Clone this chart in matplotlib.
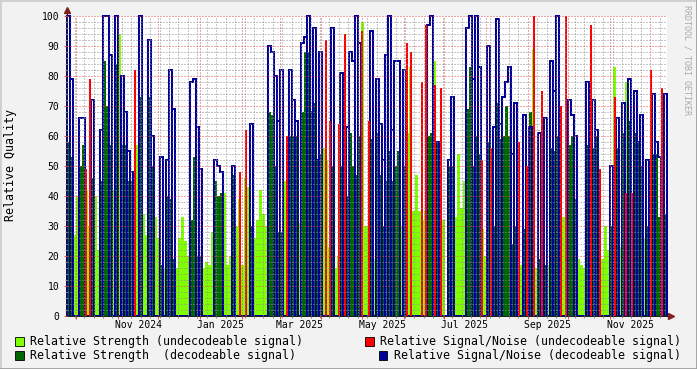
# Relative quality graph (rrdtool style)

import numpy as np
import matplotlib.pyplot as plt
import matplotlib.dates as mdates
from matplotlib.ticker import MultipleLocator
from matplotlib.patches import Rectangle
from matplotlib.lines import Line2D
from datetime import datetime

# Datos: un valor por intervalo de ~2.2 dias
decoded = [1, 1, 0, 0, 1, 1, 0, 0, 1, 0, 0, 1, 1, 1, 1, 0, 1, 0, 1, 1,
           1, 1, 0, 0, 1, 0, 0, 1, 1, 0, 0, 1, 0, 1, 1, 1, 0, 0, 0, 0,
           0, 1, 1, 1, 1, 0, 0, 0, 0, 1, 1, 1, 0, 0, 0, 1, 0, 0, 0, 0,
           0, 1, 0, 0, 0, 0, 0, 1, 1, 1, 1, 1, 0, 0, 1, 1, 1, 0, 1, 1,
           1, 1, 1, 1, 1, 0, 0, 0, 1, 0, 0, 1, 0, 1, 1, 1, 1, 1, 0, 0,
           0, 1, 0, 1, 1, 1, 1, 1, 1, 1, 1, 0, 1, 0, 0, 0, 0, 0, 0, 0,
           1, 1, 0, 1, 0, 0, 0, 1, 1, 0, 0, 0, 0, 1, 1, 1, 1, 1, 0, 0,
           1, 0, 1, 1, 1, 1, 1, 1, 1, 1, 0, 0, 1, 0, 1, 0, 0, 1, 0, 1,
           0, 1, 1, 1, 0, 0, 0, 1, 1, 1, 0, 0, 0, 1, 0, 1, 1, 0, 0, 0,
           0, 1, 0, 1, 0, 1, 0, 1, 0, 1, 1, 1, 0, 1, 0, 1, 1, 1, 0, 1]

strength = [58, 53, 27, 40, 50, 57, 42, 30, 46, 40, 22, 45, 85, 70, 57, 42, 84, 94, 57, 57,
            45, 45, 45, 57, 73, 34, 27, 73, 50, 33, 26, 17, 16, 40, 39, 19, 16, 26, 33, 25,
            20, 32, 53, 20, 20, 16, 18, 17, 28, 45, 40, 41, 41, 17, 20, 47, 30, 39, 17, 46,
            43, 30, 26, 32, 42, 34, 30, 68, 67, 50, 28, 28, 45, 28, 60, 60, 60, 31, 68, 88,
            88, 68, 71, 52, 54, 56, 52, 23, 50, 16, 20, 50, 40, 40, 61, 50, 47, 60, 98, 30,
            30, 59, 19, 61, 47, 30, 45, 55, 45, 50, 55, 30, 50, 61, 83, 35, 47, 35, 32, 35,
            60, 61, 85, 58, 52, 32, 0, 50, 50, 33, 54, 36, 45, 69, 83, 50, 60, 54, 29, 20,
            58, 19, 30, 71, 59, 60, 70, 60, 24, 30, 41, 17, 29, 25, 68, 89, 16, 19, 42, 17,
            17, 56, 55, 60, 22, 33, 33, 57, 60, 39, 19, 17, 16, 57, 46, 56, 60, 34, 19, 30,
            22, 30, 83, 56, 23, 61, 78, 65, 41, 61, 58, 50, 26, 30, 49, 54, 54, 33, 33, 34]

snr = [100, 79, 0, 0, 66, 66, 49, 79, 72, 0, 0, 62, 100, 100, 87, 0, 100, 0, 80, 68,
       55, 48, 82, 0, 100, 0, 0, 92, 60, 0, 0, 53, 0, 52, 82, 69, 0, 0, 0, 0,
       0, 78, 79, 63, 49, 0, 0, 0, 0, 52, 50, 48, 0, 0, 0, 50, 0, 48, 0, 62,
       0, 64, 0, 0, 0, 0, 0, 90, 88, 80, 65, 82, 0, 60, 82, 72, 65, 0, 91, 93,
       100, 68, 96, 52, 88, 0, 92, 65, 96, 0, 64, 81, 94, 63, 88, 85, 100, 91, 95, 0,
       65, 95, 0, 79, 64, 52, 87, 100, 62, 85, 85, 0, 82, 91, 88, 0, 0, 0, 78, 97,
       97, 100, 77, 58, 76, 0, 0, 52, 73, 0, 0, 0, 0, 96, 100, 79, 100, 83, 52, 0,
       90, 56, 63, 99, 64, 73, 78, 83, 54, 71, 58, 0, 67, 50, 63, 100, 0, 61, 75, 66,
       0, 85, 75, 100, 70, 0, 100, 72, 67, 60, 0, 0, 0, 78, 97, 72, 62, 49, 0, 0,
       0, 50, 73, 66, 0, 71, 41, 79, 41, 75, 58, 67, 0, 52, 82, 74, 58, 53, 76, 74]

labels_x = ['Nov 2024', 'Jan 2025', 'Mar 2025', 'May 2025', 'Jul 2025', 'Sep 2025', 'Nov 2025']
labels_fecha = [datetime(2024, 11, 16), datetime(2025, 1, 16), datetime(2025, 3, 16),
                datetime(2025, 5, 16), datetime(2025, 7, 16), datetime(2025, 9, 16),
                datetime(2025, 11, 16)]

leyenda = ['Relative Strength (undecodeable signal)',
           'Relative Signal/Noise (undecodeable signal)',
           'Relative Strength  (decodeable signal)',
           'Relative Signal/Noise (decodeable signal)']
colores = ['#80FF00', '#FF0000', '#006600', '#000099']

# Eje de tiempo
inicio = mdates.date2num(datetime(2024, 9, 24, 8))
paso = 2.225
bordes = inicio + np.arange(len(strength) + 1) * paso
centros = bordes[:-1] + paso / 2

d = np.array(decoded)
s = np.array(strength, dtype=float)
q = np.array(snr, dtype=float)

# Linea azul: baja a cero entre muestras que no se unen
vals_b = []
bordes_b = [bordes[0]]
for i in range(len(q)):
    vals_b.append(q[i] * d[i])
    bordes_b.append(bordes[i + 1])
    if i < len(q) - 1 and d[i] and d[i + 1] and abs(q[i] - q[i + 1]) > 5:
        vals_b.append(0)
        bordes_b.append(bordes[i + 1])

W, H = 697, 369
mono = 'DejaVu Sans Mono'
fig = plt.figure(figsize=(W / 100, H / 100), dpi=100, facecolor='#F2F2F2')
ax = fig.add_axes([67 / W, (H - 315.5) / H, 600 / W, 300 / H])
ax.set_facecolor('white')

ax.stairs(s * (1 - d), bordes, fill=True, color=colores[0], baseline=0, lw=0)
roja = (d == 0) & (q > 0)
ax.vlines(centros[roja], 0, q[roja], color=colores[1], lw=1.2, antialiased=False)
ax.stairs(s * d, bordes, fill=True, color=colores[2], baseline=0, lw=0)
ax.stairs(vals_b, bordes_b, color=colores[3], baseline=0, lw=1.44, clip_on=False)

ax.set_xlim(bordes[0], bordes[-1])
ax.set_ylim(0, 100)

# Rejilla
ax.xaxis.set_major_locator(mdates.MonthLocator())
ax.xaxis.set_minor_locator(mdates.WeekdayLocator(byweekday=mdates.MO))
ax.xaxis.set_major_formatter(plt.NullFormatter())
ax.yaxis.set_major_locator(MultipleLocator(10))
ax.yaxis.set_minor_locator(MultipleLocator(2))
ax.set_axisbelow(False)
ax.grid(which='minor', color=(0.56, 0.56, 0.56, 0.45), linestyle=(0, (1, 2)), lw=0.72)
ax.grid(which='major', color=(0.87, 0.31, 0.31, 0.45), linestyle=(0, (1, 2)), lw=0.72)

ax.tick_params(which='major', direction='out', length=2.5, width=0.72,
               color=(0.87, 0.31, 0.31), labelsize=7, labelfontfamily=mono, pad=3)
ax.tick_params(which='minor', direction='out', length=1.5, width=0.72, color='#8C8C8C')
ax.tick_params(axis='x', which='major', labelbottom=False)

for lado in ['top', 'right']:
    ax.spines[lado].set_visible(False)
for lado in ['left', 'bottom']:
    ax.spines[lado].set_color('#1F1F1F')
    ax.spines[lado].set_linewidth(0.72)

# Flechas de los ejes
ax.plot([0, 0], [1, 1.015], transform=ax.transAxes, color='#1F1F1F', lw=0.72, clip_on=False)
ax.plot([1, 1.005], [0, 0], transform=ax.transAxes, color='#1F1F1F', lw=0.72, clip_on=False)
ax.plot(0, 1.017, marker='^', color='#7F1F1F', ms=4, transform=ax.transAxes, clip_on=False)
ax.plot(1.0067, 0, marker='>', color='#7F1F1F', ms=4, transform=ax.transAxes, clip_on=False)

# Etiquetas del eje x en mitad de mes
for f, t in zip(labels_fecha, labels_x):
    ax.text(mdates.date2num(f), -10 / 300, t, transform=ax.get_xaxis_transform(),
            ha='center', va='center', fontsize=7, family=mono)

fig.text(11 / W, 1 - 165 / H, 'Relative Quality', rotation=90, ha='center', va='center',
         fontsize=8.4, family=mono)
fig.text(687 / W, 1 - 60 / H, 'RRDTOOL / TOBI OETIKER', rotation=270, ha='center',
         va='center', fontsize=6, family=mono, color='#AAAAAA')

# Leyenda
pos = [(15, 30, 341), (365, 380, 341), (15, 30, 355), (379, 394, 355)]
for (xc, xt, yc), t, c in zip(pos, leyenda, colores):
    fig.add_artist(Rectangle((xc / W, 1 - (yc + 4.5) / H), 8.5 / W, 9 / H,
                             transform=fig.transFigure, fc=c, ec='black', lw=0.6))
    fig.text(xt / W, 1 - yc / H, t, ha='left', va='center', fontsize=8.4, family=mono)

# Marco sombreado
fig.add_artist(Line2D([0, 1], [1, 1], transform=fig.transFigure, color='#CFCFCF', lw=2))
fig.add_artist(Line2D([0, 0], [0, 1], transform=fig.transFigure, color='#CFCFCF', lw=2))
fig.add_artist(Line2D([0, 1], [0, 0], transform=fig.transFigure, color='#9E9E9E', lw=2))
fig.add_artist(Line2D([1, 1], [0, 1], transform=fig.transFigure, color='#9E9E9E', lw=2))

plt.savefig('out.png', dpi=100, facecolor=fig.get_facecolor())
